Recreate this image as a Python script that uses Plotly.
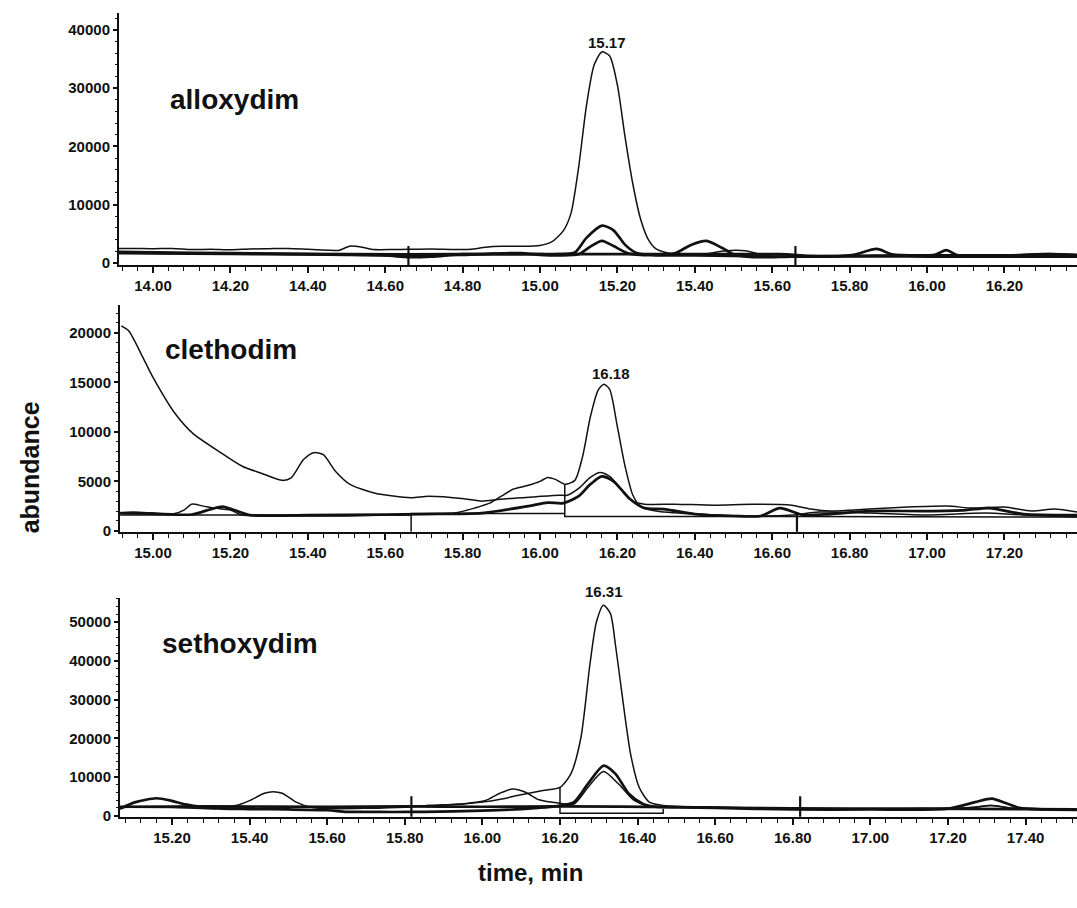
import plotly.graph_objects as go

W, H = 1077, 908
FONT = "Liberation Sans, Arial, sans-serif"
INK = "#111111"

# ---------------- Panel 1: alloxydim ----------------
p1_main_t = [13.912, 13.95, 14.00, 14.05, 14.10, 14.15, 14.20, 14.25, 14.30, 14.35, 14.40, 14.45, 14.48, 14.51, 14.54,
             14.57, 14.62, 14.66, 14.72, 14.78, 14.82, 14.86, 14.90, 14.95, 15.00, 15.03, 15.06, 15.08, 15.10, 15.12,
             15.14, 15.16, 15.18, 15.20, 15.22, 15.24, 15.26, 15.28, 15.30, 15.33, 15.36, 15.42, 15.48, 15.53, 15.58,
             15.62, 15.70, 15.80, 15.87, 15.92, 16.00, 16.10, 16.20, 16.30, 16.388]
p1_main_v = [2500, 2500, 2450, 2500, 2300, 2350, 2250, 2400, 2450, 2500, 2350, 2200, 2150, 2900, 2700,
             2300, 2300, 2350, 2400, 2300, 2350, 2700, 2850, 2850, 3000, 3600, 5500, 8500, 16500, 27000,
             34000, 36200, 35500, 30500, 21500, 13500, 7500, 4000, 2400, 1700, 1500, 1500, 2100, 2100, 1300,
             1100, 1100, 1200, 1300, 1200, 1200, 1200, 1200, 1300, 1200]
p1_b_t = [13.912, 14.00, 14.20, 14.40, 14.60, 14.66, 14.72, 14.80, 14.90, 15.00, 15.05, 15.09, 15.12, 15.16, 15.19,
          15.22, 15.25, 15.30, 15.35, 15.39, 15.43, 15.47, 15.50, 15.55, 15.65, 15.75, 15.81, 15.87, 15.91, 16.00,
          16.05, 16.20, 16.30, 16.388]
p1_b_v = [1900, 1800, 1700, 1500, 1300, 1000, 1100, 1500, 1500, 1500, 1500, 1800, 4300, 6400, 5600,
          3100, 1700, 1400, 1700, 3100, 3800, 2600, 1500, 1000, 1100, 1100, 1400, 2400, 1500, 1300,
          1300, 1300, 1500, 1400]
p1_c_t = [13.912, 14.10, 14.30, 14.50, 14.66, 14.80, 14.95, 15.00, 15.05, 15.10, 15.13, 15.16, 15.19, 15.23, 15.30,
          15.40, 15.50, 15.60, 15.80, 15.95, 16.02, 16.05, 16.08, 16.20, 16.32, 16.388]
p1_c_v = [1800, 1600, 1500, 1400, 1300, 1400, 1700, 1400, 1300, 1500, 2800, 3800, 2900, 1600, 1300,
          1300, 1200, 1100, 1200, 1300, 1400, 2200, 1300, 1200, 1500, 1300]
p1_d_t = [13.912, 14.20, 14.50, 14.80, 15.00, 15.30, 15.62, 15.70, 16.00, 16.388]
p1_d_v = [1700, 1600, 1500, 1500, 1500, 1500, 1500, 1200, 1100, 1100]
p1_mark_t = [14.66, 15.66]
p1_mark_lo, p1_mark_hi = -400, 2900

# ---------------- Panel 2: clethodim ----------------
p2_main_t = [14.918, 14.937, 14.974, 15.00, 15.057, 15.103, 15.177, 15.232, 15.278, 15.334, 15.357, 15.389, 15.415,
             15.44, 15.472, 15.509, 15.574, 15.666, 15.712, 15.804, 15.85, 15.897, 15.99, 16.05, 16.07, 16.10,
             16.13, 16.155, 16.18, 16.21, 16.24, 16.27, 16.35, 16.45, 16.55, 16.65, 16.70, 16.75, 16.85, 16.95,
             17.05, 17.12, 17.20, 17.27, 17.33, 17.388]
p2_main_v = [20700, 20200, 17500, 15500, 11850, 9850, 7850, 6500, 5850, 5100, 5350, 7200, 7900,
             7700, 6000, 4700, 3800, 3350, 3500, 3250, 3000, 3200, 3450, 3600, 3600, 4300,
             5400, 5900, 5500, 4200, 3000, 2700, 2700, 2600, 2700, 2600, 2200, 2000, 2200, 2400,
             2500, 2300, 2400, 2000, 2200, 1900]
p2_t_t = [14.915, 14.95, 15.00, 15.05, 15.08, 15.10, 15.13, 15.16, 15.20, 15.23, 15.30, 15.40, 15.50, 15.60, 15.70,
          15.78, 15.83, 15.87, 15.90, 15.93, 15.97, 16.00, 16.02, 16.04, 16.065, 16.09, 16.11, 16.13, 16.15, 16.165,
          16.18, 16.20, 16.22, 16.24, 16.26, 16.30, 16.40, 16.55, 16.65, 16.72, 16.85, 17.00, 17.15, 17.25, 17.388]
p2_t_v = [1800, 1900, 1800, 1700, 2100, 2700, 2500, 2300, 2100, 1600, 1500, 1500, 1500, 1600, 1700,
          1800, 2300, 2800, 3500, 4200, 4600, 5000, 5400, 5200, 4700, 5100, 7500, 11500, 14200, 14800,
          14300, 10500, 6500, 3600, 2500, 2000, 1700, 1500, 1600, 1900, 1800, 1600, 1800, 1600, 1400]
p2_k_t = [14.915, 15.00, 15.10, 15.15, 15.18, 15.21, 15.25, 15.40, 15.60, 15.70, 15.85, 15.97, 16.02, 16.06, 16.10,
          16.13, 16.16, 16.19, 16.23, 16.27, 16.32, 16.40, 16.50, 16.57, 16.62, 16.68, 16.75, 16.85, 17.00, 17.10,
          17.16, 17.25, 17.388]
p2_k_v = [1800, 1750, 1650, 2200, 2450, 2100, 1600, 1600, 1650, 1700, 1800, 2500, 2850, 2800, 3500,
          4700, 5500, 5000, 3300, 2300, 2200, 1700, 1500, 1500, 2300, 1600, 1700, 2000, 2000, 2100,
          2300, 1700, 1600]
p2_base_t = [14.915, 15.667, 15.667, 15.667, 16.064, 16.064, 16.064, 16.664, 17.388]
p2_base_v = [1600, 1600, -300, 1750, 1750, 4700, 1450, 1450, 1400]
p2_mark_t = [16.664]
p2_mark_lo, p2_mark_hi = -300, 1850

# ---------------- Panel 3: sethoxydim ----------------
p3_main_t = [15.066, 15.10, 15.20, 15.30, 15.40, 15.50, 15.60, 15.70, 15.80, 15.86, 15.95, 16.00, 16.05, 16.09,
             16.156, 16.20, 16.228, 16.254, 16.277, 16.294, 16.312, 16.33, 16.343, 16.36, 16.382, 16.404, 16.43,
             16.466, 16.50, 16.60, 16.70, 16.80, 16.90, 17.00, 17.10, 17.20, 17.27, 17.31, 17.36, 17.45, 17.532]
p3_main_v = [2000, 2300, 2300, 2200, 2300, 2300, 2200, 2300, 2300, 2600, 3000, 3500, 4300, 5200,
             6500, 7300, 10800, 20200, 39000, 50100, 54400, 52200, 44100, 31300, 15900, 7350, 3500,
             2650, 2400, 2200, 2000, 1700, 1800, 1700, 1800, 1900, 2200, 2600, 2000, 1600, 1500]
p3_b_t = [15.066, 15.106, 15.16, 15.197, 15.235, 15.28, 15.33, 15.40, 15.50, 15.60, 15.65, 15.70, 15.77, 15.85,
          16.00, 16.10, 16.20, 16.236, 16.272, 16.312, 16.343, 16.378, 16.413, 16.447, 16.50, 16.60, 16.80, 17.00,
          17.20, 17.27, 17.313, 17.35, 17.384, 17.45, 17.532]
p3_b_v = [1800, 3500, 4500, 3900, 2900, 2200, 1800, 1700, 1600, 1400, 1000, 1000, 950, 1000,
          1300, 1700, 2600, 3500, 8200, 12900, 10800, 5600, 3100, 2300, 2200, 2000, 1600, 1600,
          1800, 3500, 4400, 3200, 2000, 1600, 1500]
p3_c_t = [15.066, 15.20, 15.31, 15.364, 15.40, 15.438, 15.46, 15.484, 15.52, 15.557, 15.612, 15.70, 15.80, 15.861,
          15.953, 16.008, 16.045, 16.078, 16.11, 16.146, 16.20, 16.236, 16.272, 16.312, 16.35, 16.39, 16.43, 16.50,
          16.70, 16.90, 17.10, 17.25, 17.31, 17.37, 17.532]
p3_c_v = [2200, 2100, 1800, 2600, 3900, 5800, 6200, 5800, 3500, 2200, 1800, 1900, 2200, 2600,
          3100, 3900, 5800, 6900, 6100, 4100, 3200, 3000, 7300, 11400, 8300, 4000, 2500, 2300,
          1900, 1700, 1800, 2000, 2600, 1900, 1500]
p3_d_t = [15.066, 15.30, 15.60, 15.80, 16.00, 16.20, 16.50, 16.80, 17.10, 17.40, 17.532]
p3_d_v = [2300, 2400, 2300, 2400, 2300, 2400, 2200, 1900, 1800, 1700, 1600]
p3_rect_t = [16.20, 16.20, 16.466, 16.466]
p3_rect_v = [7300, 600, 600, 1800]
p3_mark_t = [15.817, 16.819]
p3_mark_lo, p3_mark_hi = -400, 5000

# panel texts
panel_names = ["alloxydim", "clethodim", "sethoxydim"]
peak_labels = ["15.17", "16.18", "16.31"]
y_title = "abundance"
x_title = "time, min"

fig = go.Figure()

def add_line(t, v, xa, ya, width, shape="spline"):
    fig.add_trace(go.Scatter(x=t, y=v, xaxis=xa, yaxis=ya, mode="lines",
                             line=dict(color=INK, width=width, shape=shape, smoothing=0.7 if shape == "spline" else None),
                             showlegend=False, hoverinfo="skip"))

def add_marks(ts, lo, hi, xa, ya):
    xs, ys = [], []
    for t in ts:
        xs += [t, t, None]
        ys += [lo, hi, None]
    fig.add_trace(go.Scatter(x=xs, y=ys, xaxis=xa, yaxis=ya, mode="lines",
                             line=dict(color=INK, width=2.2), showlegend=False, hoverinfo="skip"))

THIN, THICK = 1.5, 2.7
# panel 1
add_line(p1_d_t, p1_d_v, "x", "y", THICK)
add_line(p1_c_t, p1_c_v, "x", "y", THICK)
add_line(p1_b_t, p1_b_v, "x", "y", THICK)
add_line(p1_main_t, p1_main_v, "x", "y", THIN)
add_marks(p1_mark_t, p1_mark_lo, p1_mark_hi, "x", "y")
# panel 2
add_line(p2_base_t, p2_base_v, "x2", "y2", THIN, shape="linear")
add_line(p2_k_t, p2_k_v, "x2", "y2", THICK)
add_line(p2_t_t, p2_t_v, "x2", "y2", THIN)
add_line(p2_main_t, p2_main_v, "x2", "y2", THIN)
add_marks(p2_mark_t, p2_mark_lo, p2_mark_hi, "x2", "y2")
# panel 3
add_line(p3_d_t, p3_d_v, "x3", "y3", THICK)
add_line(p3_b_t, p3_b_v, "x3", "y3", THICK)
add_line(p3_c_t, p3_c_v, "x3", "y3", THIN)
add_line(p3_main_t, p3_main_v, "x3", "y3", THIN)
add_line(p3_rect_t, p3_rect_v, "x3", "y3", THIN, shape="linear")
add_marks(p3_mark_t, p3_mark_lo, p3_mark_hi, "x3", "y3")

def px_x(p):
    return p / W

def px_y(p):
    return 1 - p / H

tickfont = dict(family=FONT, size=15, color=INK, weight="bold")

def xaxis_cfg(left, rng, tick0, anchor):
    return dict(domain=[px_x(left), 1], range=rng, anchor=anchor, showline=True, linewidth=2, linecolor=INK,
                ticks="outside", ticklen=6, tickwidth=1.5, tickcolor=INK, dtick=0.2, tick0=tick0,
                tickformat=".2f", tickfont=tickfont, showgrid=False, zeroline=False,
                minor=dict(dtick=0.04, tick0=tick0, ticks="outside", ticklen=4, tickwidth=1.2, tickcolor=INK,
                           showgrid=False))

def yaxis_cfg(top, bottom, rng, dtick, anchor):
    return dict(domain=[px_y(bottom), px_y(top)], range=rng, anchor=anchor, showline=True, linewidth=2,
                linecolor=INK, ticks="outside", ticklen=4, tickwidth=1.5, tickcolor=INK, dtick=dtick, tick0=0,
                tickformat="d", tickfont=tickfont, showgrid=False, zeroline=False,
                minor=dict(dtick=dtick / 5, tick0=0, ticks="outside", ticklen=2, tickwidth=1, tickcolor=INK,
                           showgrid=False))

fig.update_layout(
    width=W, height=H, margin=dict(l=0, r=0, t=0, b=0),
    paper_bgcolor="white", plot_bgcolor="white", showlegend=False,
    xaxis=xaxis_cfg(119, [13.9121, 16.3876], 14.0, "y"),
    yaxis=yaxis_cfg(13, 267, [-340, 42894], 10000, "x"),
    xaxis2=xaxis_cfg(120, [14.9147, 17.3876], 15.0, "y2"),
    yaxis2=yaxis_cfg(307, 536, [-100, 22846], 5000, "x2"),
    xaxis3=xaxis_cfg(120, [15.066, 17.5325], 15.2, "y3"),
    yaxis3=yaxis_cfg(603, 823, [-256, 56154], 10000, "x3"),
)

ann = []
name_pos = [(168, 100), (163, 352), (160, 648)]
for name, (x, y) in zip(panel_names, name_pos):
    ann.append(dict(text=name, x=px_x(x), y=px_y(y), xref="paper", yref="paper", xanchor="left", yanchor="middle",
                    showarrow=False, font=dict(family=FONT, size=28, color=INK, weight="bold")))
peak_pos = [(607, 43), (611, 376), (604, 596)]
for lab, (x, y) in zip(peak_labels, peak_pos):
    ann.append(dict(text=lab, x=px_x(x), y=px_y(y), xref="paper", yref="paper", xanchor="center", yanchor="middle",
                    showarrow=False, font=dict(family=FONT, size=15, color=INK, weight="bold")))
ann.append(dict(text=y_title, x=px_x(30), y=px_y(471), xref="paper", yref="paper", xanchor="center",
                yanchor="middle", textangle=-90, showarrow=False,
                font=dict(family=FONT, size=25, color=INK, weight="bold")))
ann.append(dict(text=x_title, x=px_x(530), y=px_y(879), xref="paper", yref="paper", xanchor="center",
                yanchor="middle", showarrow=False, font=dict(family=FONT, size=24, color=INK, weight="bold")))
fig.update_layout(annotations=ann)

fig.write_html("out.html")
